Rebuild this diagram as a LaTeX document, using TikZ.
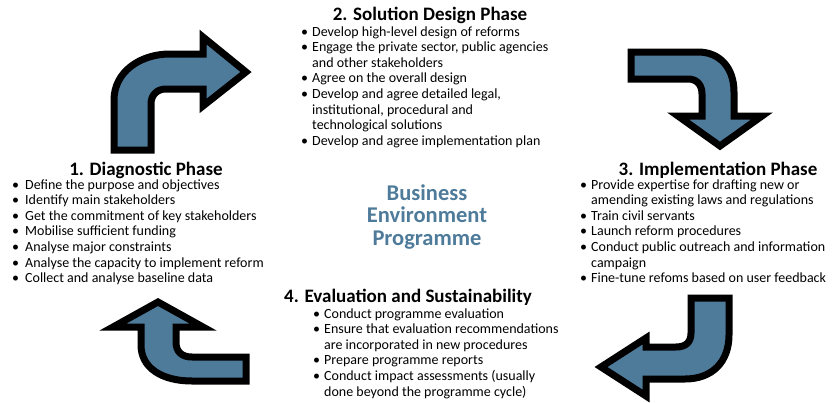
\documentclass[tikz,border=0pt]{standalone}
\usepackage{fontspec}
\setmainfont{Carlito}
\usetikzlibrary{positioning}
\definecolor{steel}{RGB}{79,123,155}
\newcommand{\bul}{\makebox[11pt][l]{\textbullet}}
\newcommand{\ind}{\hspace*{11pt}}

\begin{document}
\begin{tikzpicture}[x=1pt,y=-1pt,
	phasehead/.style={font=\fontsize{19}{21}\selectfont\bfseries, inner sep=0pt, anchor=base},
	phaselist/.style={font=\fontsize{14}{15.6}\selectfont, inner sep=0pt, anchor=base west},
	bigarrow/.style={draw=black, line width=7pt, line join=miter, fill=steel},
	centretitle/.style={font=\fontsize{22.5}{22.5}\selectfont\bfseries, text=steel, align=center, inner sep=0pt}]
			\useasboundingbox (0,0) rectangle (835,402);

			% the four bent arrows
			\draw[bigarrow] (114,150) -- (114,100) .. controls (114,72) and (140,54) .. (170,54) -- (203,54) -- (203,37) -- (246,72) -- (203,106) -- (203,89) -- (166,89) .. controls (157,89) and (151,95) .. (151,104) -- (151,150) -- cycle;
			\draw[bigarrow] (631,52) -- (698,52) .. controls (720,52) and (734,68) .. (734,92) -- (734,116) -- (762,116) -- (720,146) -- (678,116) -- (702,116) -- (702,94) .. controls (702,85) and (697,79) .. (688,79) -- (631,79) -- cycle;
			\draw[bigarrow] (691,298) -- (729,298) -- (729,335) .. controls (729,362) and (712,379) .. (685,379) -- (646,379) -- (646,396) -- (601,367) -- (646,338) -- (646,347) -- (676,347) .. controls (686,347) and (691,342) .. (691,333) -- cycle;
			\draw[bigarrow] (246,357) -- (192,357) .. controls (182,357) and (176,352) .. (176,342) -- (176,327) -- (203,327) -- (158,302) -- (113,327) -- (141,327) -- (141,345) .. controls (141,368) and (162,381) .. (192,381) -- (246,381) -- cycle;

			\node[centretitle] (bep) at (427,217) {Business\\Environment\\Programme};

			\node[phasehead] (dph) at (146,175) {1. Diagnostic Phase};
			\node[phaselist] (dpl) at (12,189) {\begin{tabular}[t]{@{}l@{}}
				\makebox[13pt][l]{\textbullet}Define the purpose and objectives\\
				\makebox[13pt][l]{\textbullet}Identify main stakeholders\\
				\makebox[13pt][l]{\textbullet}Get the commitment of key stakeholders\\
				\makebox[13pt][l]{\textbullet}Mobilise sufficient funding\\
				\makebox[13pt][l]{\textbullet}Analyse major constraints\\
				\makebox[13pt][l]{\textbullet}Analyse the capacity to implement reform\\
				\makebox[13pt][l]{\textbullet}Collect and analyse baseline data
			\end{tabular}};

			\node[phasehead] (sdh) at (430,20.5) {2. Solution Design Phase};
			\node[phaselist] (sdl) at (301,36) {\begin{tabular}[t]{@{}l@{}}
				\bul Develop high-level design of reforms\\
				\bul Engage the private sector, public agencies\\
				\ind and other stakeholders\\
				\bul Agree on the overall design\\
				\bul Develop and agree detailed legal,\\
				\ind institutional, procedural and\\
				\ind technological solutions\\
				\bul Develop and agree implementation plan
			\end{tabular}};

			\node[phasehead] (imh) at (718,175) {3. Implementation Phase};
			\node[phaselist] (iml) at (580,189) {\begin{tabular}[t]{@{}l@{}}
				\bul Provide expertise for drafting new or\\
				\ind amending existing laws and regulations\\
				\bul Train civil servants\\
				\bul Launch reform procedures\\
				\bul Conduct public outreach and information\\
				\ind campaign\\
				\bul Fine-tune refoms based on user feedback
			\end{tabular}};

			\node[phasehead] (evh) at (408,302.5) {4. Evaluation and Sustainability};
			\node[phaselist] (evl) at (313,318) {\begin{tabular}[t]{@{}l@{}}
				\bul Conduct programme evaluation\\
				\bul Ensure that evaluation recommendations\\
				\ind are incorporated in new procedures\\
				\bul Prepare programme reports\\
				\bul Conduct impact assessments (usually\\
				\ind done beyond the programme cycle)
			\end{tabular}};
		\end{tikzpicture}
\end{document}
